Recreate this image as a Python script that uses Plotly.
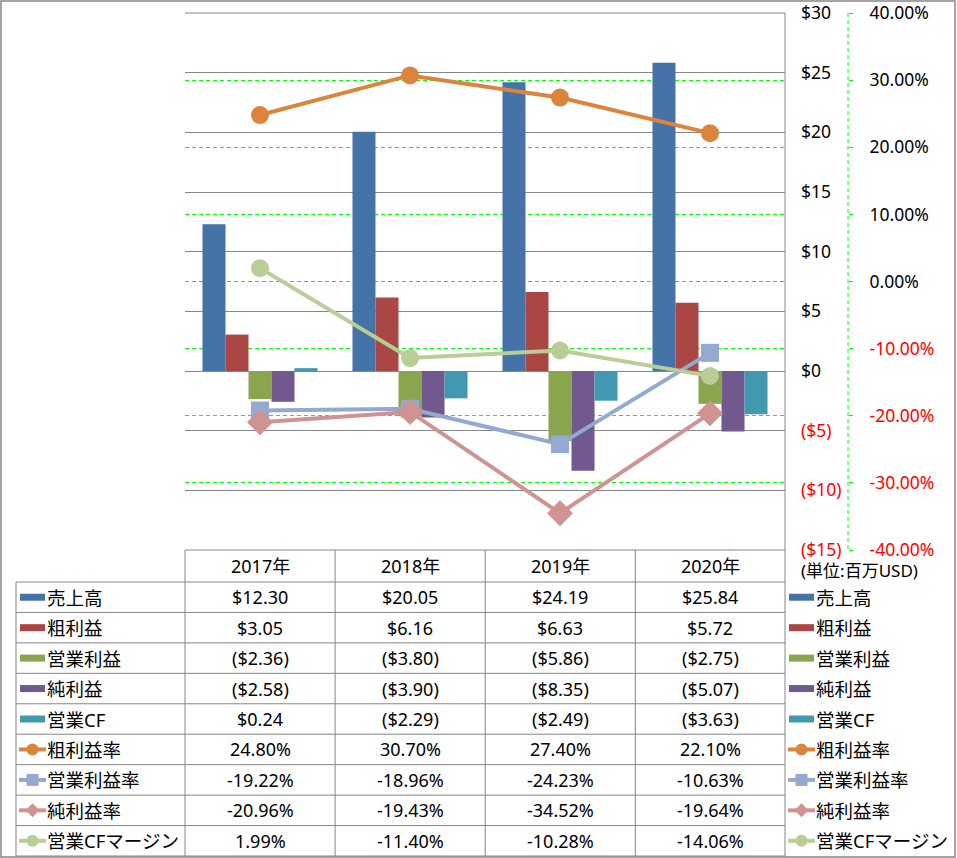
import plotly.graph_objects as go

# ---------------- data ----------------
years = ["2017年", "2018年", "2019年", "2020年"]
bar_names = ["売上高", "粗利益", "営業利益", "純利益", "営業CF"]
sales = [12.30, 20.05, 24.19, 25.84]
gross = [3.05, 6.16, 6.63, 5.72]
op_income = [-2.36, -3.80, -5.86, -2.75]
net_income = [-2.58, -3.90, -8.35, -5.07]
op_cf = [0.24, -2.29, -2.49, -3.63]
line_names = ["粗利益率", "営業利益率", "純利益率", "営業CFマージン"]
gross_margin = [24.80, 30.70, 27.40, 22.10]
op_margin = [-19.22, -18.96, -24.23, -10.63]
net_margin = [-20.96, -19.43, -34.52, -19.64]
cf_margin = [1.99, -11.40, -10.28, -14.06]
usd_ticks = [-15, -10, -5, 0, 5, 10, 15, 20, 25, 30]
pct_ticks = [-40, -30, -20, -10, 0, 10, 20, 30, 40]
unit_note = "(単位:百万USD)"

bar_values = [sales, gross, op_income, net_income, op_cf]
bar_colors = ["#4572A7", "#AA4643", "#89A54E", "#71588F", "#4198AF"]
line_values = [gross_margin, op_margin, net_margin, cf_margin]
line_colors = ["#DB843D", "#93A9CF", "#D19392", "#B9CD96"]
line_symbols = ["circle", "square", "diamond", "circle"]
line_msizes = [18, 18, 20, 18]

# ---------------- geometry ----------------
W, H = 957, 858
def px(x):
    return x / W
def py(y):
    return 1 - y / H

PX0, PX1, PY0, PY1 = 185, 785, 13, 550
FONT = "Noto Sans, Noto Sans CJK JP, sans-serif"
GRAY = "#868686"
GREEN = "#00FF00"
RED = "#FF0000"
LABEL_SIZE = 18.5
NUM_SIZE = 18
TICK_SIZE = 17.5

fig = go.Figure()

for name, vals, col in zip(bar_names, bar_values, bar_colors):
    fig.add_trace(go.Bar(x=years, y=vals, name=name, marker=dict(color=col, line=dict(width=0)),
                         yaxis="y"))

for name, vals, col, sym, ms in zip(line_names, line_values, line_colors, line_symbols, line_msizes):
    fig.add_trace(go.Scatter(x=years, y=vals, name=name, mode="lines+markers",
                             line=dict(color=col, width=4),
                             marker=dict(symbol=sym, size=ms, color=col),
                             yaxis="y2"))

def usd_fmt(v):
    return f"${v:.2f}" if v >= 0 else f"(${-v:.2f})"

def usd_tick(v):
    s = f"${v}" if v >= 0 else f"(${-v})"
    return s if v >= 0 else f"<span style='color:{RED}'>{s}</span>"

def pct_tick(v):
    s = f"{v:.2f}%"
    return s if v >= 0 else f"<span style='color:{RED}'>{s}</span>"

shapes = []
annotations = []

def hline(y, x0, x1, color=GRAY, width=1, dash=None):
    shapes.append(dict(type="line", xref="paper", yref="paper", x0=px(x0), x1=px(x1),
                       y0=py(y), y1=py(y), line=dict(color=color, width=width, dash=dash)))

def vline(x, y0, y1, color=GRAY, width=1, dash=None):
    shapes.append(dict(type="line", xref="paper", yref="paper", x0=px(x), x1=px(x),
                       y0=py(y0), y1=py(y1), line=dict(color=color, width=width, dash=dash)))

def legend_key(xl, yc, idx, name):
    """Draw an Excel-style legend key (bar swatch or line+marker) and its label."""
    nb = len(bar_names)
    if idx < nb:
        shapes.append(dict(type="rect", xref="paper", yref="paper", x0=px(xl + 1), x1=px(xl + 26),
                           y0=py(yc - 3.5), y1=py(yc + 3.5), fillcolor=bar_colors[idx], line=dict(width=0)))
    else:
        k = idx - nb
        col = line_colors[k]
        hline(yc, xl, xl + 27, color=col, width=4)
        cx = xl + 13.5
        if line_symbols[k] == "circle":
            shapes.append(dict(type="circle", xref="paper", yref="paper", x0=px(cx - 6), x1=px(cx + 6),
                               y0=py(yc - 6), y1=py(yc + 6), fillcolor=col, line=dict(width=0)))
        elif line_symbols[k] == "square":
            shapes.append(dict(type="rect", xref="paper", yref="paper", x0=px(cx - 6), x1=px(cx + 6),
                               y0=py(yc - 6), y1=py(yc + 6), fillcolor=col, line=dict(width=0)))
        else:
            path = (f"M {px(cx)} {py(yc - 7)} L {px(cx + 7)} {py(yc)} L {px(cx)} {py(yc + 7)} "
                    f"L {px(cx - 7)} {py(yc)} Z")
            shapes.append(dict(type="path", xref="paper", yref="paper", path=path,
                               fillcolor=col, line=dict(width=0)))
    annotations.append(dict(x=px(xl + 28), xref="paper", y=py(yc), yref="paper", text=name,
                            showarrow=False, font=dict(size=LABEL_SIZE, color="#000"),
                            xanchor="left", yanchor="middle", xshift=-2))

# outer frame
shapes.append(dict(type="rect", xref="paper", yref="paper", x0=px(1), x1=px(955), y0=py(1), y1=py(857),
                   line=dict(color=GRAY, width=1.5)))
# plot area top & right
hline(PY0, PX0, PX1)
vline(PX1, PY0, 856)
# percent axis line (dashed green)
vline(848, PY0, PY1, color=GREEN, width=1, dash="4px,3px")

# ---------------- data table ----------------
HEAD_TOP, HEAD_BOT, TAB_BOT = 550, 582, 856
LEFT = 16
row_h = (TAB_BOT - HEAD_BOT) / 9
col_edges = [PX0 + i * 150.1 for i in range(5)]
hline(HEAD_TOP, PX0, PX1)
for i in range(10):
    hline(HEAD_BOT + i * row_h, LEFT, PX1)
vline(LEFT, HEAD_BOT, TAB_BOT)
for xe in col_edges[:-1]:
    vline(xe, HEAD_TOP, TAB_BOT)

for yr in years:
    annotations.append(dict(x=yr, xref="x", y=py((HEAD_TOP + HEAD_BOT) / 2), yref="paper",
                            text=yr, showarrow=False, font=dict(size=NUM_SIZE, color="#000"),
                            xanchor="center", yanchor="middle"))

row_names = bar_names + line_names
row_vals = bar_values + line_values
for r, (name, vals) in enumerate(zip(row_names, row_vals)):
    yc = HEAD_BOT + (r + 0.5) * row_h
    is_bar = r < len(bar_names)
    for yr, v in zip(years, vals):
        txt = usd_fmt(v) if is_bar else f"{v:.2f}%"
        annotations.append(dict(x=yr, xref="x", y=py(yc), yref="paper", text=txt, showarrow=False,
                                font=dict(size=NUM_SIZE, color="#000"), xanchor="center", yanchor="middle"))
    # key inside the table's first column
    legend_key(19, yc, r, name)
    # legend at the right side
    legend_key(788, yc, r, name)

annotations.append(dict(x=px(799), xref="paper", y=py(570), yref="paper", text=unit_note,
                        showarrow=False, font=dict(size=17, color="#000"), xanchor="left", yanchor="middle"))

fig.update_layout(
    width=W, height=H, autosize=False,
    margin=dict(l=0, r=0, t=0, b=0, pad=0),
    paper_bgcolor="white", plot_bgcolor="white",
    font=dict(family=FONT, size=17, color="#000"),
    barmode="group", bargap=0.233, bargroupgap=0,
    showlegend=False,
    xaxis=dict(domain=[px(PX0), px(PX1)], type="category", range=[-0.5, 3.5],
               showticklabels=False, showgrid=False, showline=False, zeroline=False,
               ticks="", automargin=False),
    yaxis=dict(domain=[py(PY1), py(PY0)], range=[-15, 30], side="right", anchor="free",
               position=px(800), tickvals=usd_ticks, ticktext=[usd_tick(v) for v in usd_ticks],
               showgrid=True, gridcolor=GRAY, gridwidth=1, zeroline=False, showline=False,
               ticks="", tickfont=dict(size=TICK_SIZE, color="#000"), automargin=False),
    yaxis2=dict(domain=[py(PY1), py(PY0)], range=[-40, 40], side="right", anchor="free",
                overlaying="y", position=px(848), tickvals=pct_ticks,
                ticktext=[pct_tick(v) for v in pct_ticks],
                showgrid=True, gridcolor=GREEN, gridwidth=1, griddash="4px,3px",
                zeroline=False, showline=False, ticks="outside", ticklen=4, tickcolor=GREEN,
                ticklabelstandoff=13, tickfont=dict(size=TICK_SIZE, color="#000"), automargin=False),
    shapes=shapes, annotations=annotations,
)

fig.write_html("out.html", config={"displayModeBar": False},
               post_script="document.body.style.margin='0';")
